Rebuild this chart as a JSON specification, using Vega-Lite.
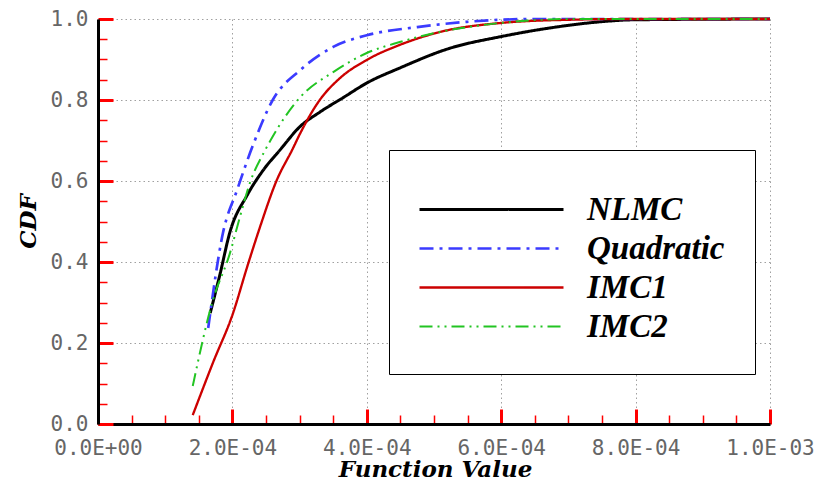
{
  "$schema": "https://vega.github.io/schema/vega-lite/v6.json",
  "width": 672,
  "height": 405,
  "autosize": {"type": "none"},
  "padding": {"left": 98, "top": 19, "right": 45, "bottom": 64},
  "background": "white",
  "config": {"view": {"stroke": "transparent"}},
  "data": {
    "values": [
      {"series": "NLMC", "fv": 0.000167, "cdf": 0.274},
      {"series": "NLMC", "fv": 0.000182, "cdf": 0.373},
      {"series": "NLMC", "fv": 0.000196, "cdf": 0.472},
      {"series": "NLMC", "fv": 0.000222, "cdf": 0.565},
      {"series": "NLMC", "fv": 0.000246, "cdf": 0.627},
      {"series": "NLMC", "fv": 0.000271, "cdf": 0.677},
      {"series": "NLMC", "fv": 0.000301, "cdf": 0.735},
      {"series": "NLMC", "fv": 0.00033, "cdf": 0.77},
      {"series": "NLMC", "fv": 0.000365, "cdf": 0.806},
      {"series": "NLMC", "fv": 0.0004, "cdf": 0.842},
      {"series": "NLMC", "fv": 0.000449, "cdf": 0.879},
      {"series": "NLMC", "fv": 0.000524, "cdf": 0.928},
      {"series": "NLMC", "fv": 0.000598, "cdf": 0.956},
      {"series": "NLMC", "fv": 0.000673, "cdf": 0.978},
      {"series": "NLMC", "fv": 0.000747, "cdf": 0.993},
      {"series": "NLMC", "fv": 0.000796, "cdf": 0.998},
      {"series": "NLMC", "fv": 0.001, "cdf": 1.0},

      {"series": "Quadratic", "fv": 0.000164, "cdf": 0.237},
      {"series": "Quadratic", "fv": 0.000186, "cdf": 0.472},
      {"series": "Quadratic", "fv": 0.000207, "cdf": 0.578},
      {"series": "Quadratic", "fv": 0.000231, "cdf": 0.69},
      {"series": "Quadratic", "fv": 0.00026, "cdf": 0.8},
      {"series": "Quadratic", "fv": 0.000301, "cdf": 0.874},
      {"series": "Quadratic", "fv": 0.00035, "cdf": 0.931},
      {"series": "Quadratic", "fv": 0.0004, "cdf": 0.96},
      {"series": "Quadratic", "fv": 0.000475, "cdf": 0.98},
      {"series": "Quadratic", "fv": 0.000549, "cdf": 0.993},
      {"series": "Quadratic", "fv": 0.000647, "cdf": 1.0},
      {"series": "Quadratic", "fv": 0.001, "cdf": 1.0},

      {"series": "IMC1", "fv": 0.000141, "cdf": 0.022},
      {"series": "IMC1", "fv": 0.000171, "cdf": 0.151},
      {"series": "IMC1", "fv": 0.000201, "cdf": 0.274},
      {"series": "IMC1", "fv": 0.000222, "cdf": 0.388},
      {"series": "IMC1", "fv": 0.000241, "cdf": 0.486},
      {"series": "IMC1", "fv": 0.000266, "cdf": 0.602},
      {"series": "IMC1", "fv": 0.000289, "cdf": 0.677},
      {"series": "IMC1", "fv": 0.000301, "cdf": 0.718},
      {"series": "IMC1", "fv": 0.00033, "cdf": 0.8},
      {"series": "IMC1", "fv": 0.00036, "cdf": 0.854},
      {"series": "IMC1", "fv": 0.0004, "cdf": 0.899},
      {"series": "IMC1", "fv": 0.000449, "cdf": 0.936},
      {"series": "IMC1", "fv": 0.000509, "cdf": 0.968},
      {"series": "IMC1", "fv": 0.000598, "cdf": 0.99},
      {"series": "IMC1", "fv": 0.000698, "cdf": 0.998},
      {"series": "IMC1", "fv": 0.000796, "cdf": 1.0},
      {"series": "IMC1", "fv": 0.001, "cdf": 1.0},

      {"series": "IMC2", "fv": 0.000141, "cdf": 0.094},
      {"series": "IMC2", "fv": 0.000171, "cdf": 0.306},
      {"series": "IMC2", "fv": 0.000196, "cdf": 0.42},
      {"series": "IMC2", "fv": 0.000211, "cdf": 0.51},
      {"series": "IMC2", "fv": 0.000226, "cdf": 0.595},
      {"series": "IMC2", "fv": 0.000249, "cdf": 0.677},
      {"series": "IMC2", "fv": 0.00026, "cdf": 0.71},
      {"series": "IMC2", "fv": 0.000301, "cdf": 0.807},
      {"series": "IMC2", "fv": 0.00035, "cdf": 0.869},
      {"series": "IMC2", "fv": 0.0004, "cdf": 0.916},
      {"series": "IMC2", "fv": 0.000449, "cdf": 0.943},
      {"series": "IMC2", "fv": 0.000509, "cdf": 0.968},
      {"series": "IMC2", "fv": 0.000598, "cdf": 0.99},
      {"series": "IMC2", "fv": 0.0007, "cdf": 1.0},
      {"series": "IMC2", "fv": 0.001, "cdf": 1.0}
    ]
  },
  "resolve": {"axis": {"x": "independent", "y": "independent"}},
  "layer": [
    {
      "mark": {"type": "point", "opacity": 0},
      "encoding": {
        "x": {
          "field": "fv",
          "type": "quantitative",
          "scale": {"domain": [0, 0.001], "nice": false, "zero": false},
          "axis": {
            "orient": "top",
            "offset": -405,
            "title": null,
            "labels": false,
            "domain": false,
            "grid": false,
            "values": [0.00005, 0.0001, 0.00015, 0.00025, 0.0003, 0.00035, 0.00045, 0.0005, 0.00055, 0.00065, 0.0007, 0.00075, 0.00085, 0.0009, 0.00095],
            "tickColor": "red",
            "tickSize": 9,
            "tickWidth": 1.5
          }
        },
        "y": {
          "field": "cdf",
          "type": "quantitative",
          "scale": {"domain": [0, 1], "nice": false},
          "axis": {
            "orient": "right",
            "offset": -672,
            "title": null,
            "labels": false,
            "domain": false,
            "grid": false,
            "values": [0.05, 0.1, 0.15, 0.25, 0.3, 0.35, 0.45, 0.5, 0.55, 0.65, 0.7, 0.75, 0.85, 0.9, 0.95],
            "tickColor": "red",
            "tickSize": 9,
            "tickWidth": 1.5
          }
        }
      }
    },
    {
      "mark": {"type": "line", "interpolate": "monotone"},
      "encoding": {
        "x": {
          "field": "fv",
          "type": "quantitative",
          "axis": {
            "orient": "bottom",
            "title": "Function Value",
            "titleFont": "DejaVu Serif",
            "titleFontStyle": "italic",
            "titleFontWeight": "bold",
            "titleFontSize": 23,
            "titleColor": "black",
            "titleAnchor": "start",
            "titleAlign": "center",
            "titleBaseline": "alphabetic",
            "titleX": 337,
            "titleY": 52,
            "values": [0, 0.0002, 0.0004, 0.0006, 0.0008, 0.001],
            "labelExpr": "datum.value == 0 ? '0.0E+00' : upper(replace(replace(format(datum.value, '.1e'), 'e-', 'E-0'), 'E-010', 'E-10'))",
            "labelFont": "DejaVu Sans Mono",
            "labelFontSize": 21,
            "labelColor": "#666666",
            "labelPadding": 28,
            "labelFlush": false,
            "labelOverlap": false,
            "tickColor": "red",
            "tickSize": -15,
            "tickWidth": 3,
            "domainColor": "black",
            "domainWidth": 3,
            "grid": true,
            "gridColor": "#a0a0a0",
            "gridDash": [1.5, 3],
            "gridWidth": 1
          }
        },
        "y": {
          "field": "cdf",
          "type": "quantitative",
          "axis": {
            "orient": "left",
            "title": "CDF",
            "titleFont": "DejaVu Serif",
            "titleFontStyle": "italic",
            "titleFontWeight": "bold",
            "titleFontSize": 23,
            "titleColor": "black",
            "titleAngle": -90,
            "titleAlign": "center",
            "titleBaseline": "alphabetic",
            "titleX": -63,
            "titleY": 202,
            "values": [0, 0.2, 0.4, 0.6, 0.8, 1.0],
            "format": ".1f",
            "labelFont": "DejaVu Sans Mono",
            "labelFontSize": 21,
            "labelColor": "#666666",
            "labelPadding": 25,
            "labelFlush": false,
            "labelOverlap": false,
            "tickColor": "red",
            "tickSize": -15,
            "tickWidth": 3,
            "domainColor": "black",
            "domainWidth": 3,
            "grid": true,
            "gridColor": "#a0a0a0",
            "gridDash": [1.5, 3],
            "gridWidth": 1
          }
        },
        "stroke": {
          "field": "series",
          "type": "nominal",
          "sort": ["NLMC", "Quadratic", "IMC1", "IMC2"],
          "scale": {"domain": ["NLMC", "Quadratic", "IMC1", "IMC2"], "range": ["#000000", "#3b3bff", "#cc0000", "#22c422"]},
          "legend": {
            "title": " ",
            "titleFontSize": 10,
            "titlePadding": 3,
            "orient": "none",
            "legendX": 291,
            "legendY": 131,
            "padding": 30,
            "strokeColor": "black",
            "fillColor": "white",
            "symbolType": "M-7.2,0H7.2",
            "symbolSize": 400,
            "symbolOffset": 56,
            "symbolStrokeWidth": 3,
            "labelFont": "Liberation Serif",
            "labelFontStyle": "italic",
            "labelFontWeight": "bold",
            "labelFontSize": 33,
            "labelColor": "black",
            "labelOffset": 79,
            "labelLimit": 400,
            "rowPadding": 5
          }
        },
        "strokeDash": {
          "field": "series",
          "type": "nominal",
          "sort": ["NLMC", "Quadratic", "IMC1", "IMC2"],
          "scale": {"domain": ["NLMC", "Quadratic", "IMC1", "IMC2"], "range": [[1, 0], [14, 6, 3, 6], [1, 0], [13, 5, 2, 5, 2, 5]]}
        },
        "strokeWidth": {
          "field": "series",
          "type": "nominal",
          "sort": ["NLMC", "Quadratic", "IMC1", "IMC2"],
          "scale": {"domain": ["NLMC", "Quadratic", "IMC1", "IMC2"], "range": [3, 2, 3, 2]}
        }
      }
    }
  ]
}
